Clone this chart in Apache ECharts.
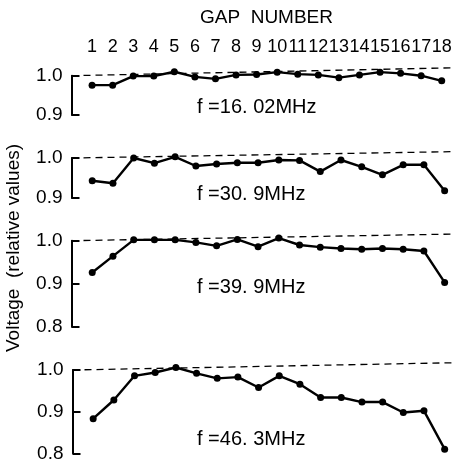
<!DOCTYPE html>
<html>
<head>
<meta charset="utf-8">
<script src="https://cdn.jsdelivr.net/npm/echarts@6/dist/echarts.min.js"></script>
<style>
html,body{margin:0;padding:0;background:#fff;}
#c{width:455px;height:465px;}
</style>
</head>
<body>
<div id="c"></div>
<script>
var gapLabels = ['1','2','3','4','5','6','7','8','9','10','11','12','13','14','15','16','17','18'];
var freqLabels = ['f =16. 02MHz','f =30. 9MHz','f =39. 9MHz','f =46. 3MHz'];
var v16 = [0.976,0.976,0.999,0.999,1.010,0.997,0.992,1.002,1.003,1.009,1.004,1.002,0.995,1.002,1.009,1.006,1.000,0.987];
var v30 = [0.943,0.937,1.000,0.987,1.003,0.980,0.985,0.988,0.988,0.995,0.994,0.966,0.995,0.978,0.958,0.983,0.983,0.918];
var v39 = [0.926,0.964,1.002,1.002,1.002,0.996,0.988,1.003,0.986,1.006,0.990,0.985,0.982,0.980,0.982,0.980,0.976,0.903];
var v46 = [0.883,0.928,0.986,0.994,1.006,0.992,0.980,0.983,0.958,0.986,0.966,0.934,0.934,0.923,0.923,0.898,0.902,0.810];
var yMins = [0.9, 0.9, 0.8, 0.8];
var refStart = [1.0, 1.0, 1.0, 1.0];
var refEnd = [1.020, 1.016, 1.0155, 1.0175];
var xMin = 0, xMax = 18.5;

var seriesVals = [v16, v30, v39, v46];
var FONT = '"Liberation Sans", Arial, sans-serif';

var grids = [
  {left: 71.5, width: 384.4, top: 75.7, height: 39.3},
  {left: 71.5, width: 384.4, top: 158, height: 40},
  {left: 71.5, width: 384.4, top: 240.7, height: 86},
  {left: 72.5, width: 384.4, top: 370, height: 83.3}
];
var labelY = [108, 195, 288, 440];

var xAxes = [], yAxes = [], series = [], graphics = [];
for (var i = 0; i < 4; i++) {
  var isTop = i === 0;
  xAxes.push({
    type: 'value', gridIndex: i, min: xMin, max: xMax, interval: 1,
    position: 'top',
    show: isTop,
    axisLine: {show: false}, axisTick: {show: false}, splitLine: {show: false},
    axisLabel: {
      show: isTop, margin: 20, fontSize: 18, color: '#000', fontFamily: FONT,
      formatter: function (v) {
        var k = Math.round(v);
        return (Math.abs(v - k) < 1e-6 && k >= 1 && k <= gapLabels.length) ? gapLabels[k - 1] : '';
      }
    }
  });
  yAxes.push({
    type: 'value', gridIndex: i, min: yMins[i], max: 1.0, interval: 0.1,
    axisLine: {show: true, lineStyle: {color: '#000', width: 2}},
    axisTick: {show: true, inside: true, length: 8, lineStyle: {color: '#000', width: 2}},
    splitLine: {show: false},
    axisLabel: {
      margin: 9, fontSize: 19, color: '#000', fontFamily: FONT,
      formatter: function (v) { return v.toFixed(1); }
    }
  });
  var pts = seriesVals[i].map(function (v, j) { return [j + 1, v]; });
  series.push({
    type: 'line', xAxisIndex: i, yAxisIndex: i, data: pts,
    clip: false, symbol: 'circle', symbolSize: 7,
    itemStyle: {color: '#000'},
    lineStyle: {color: '#000', width: 2.4},
    silent: true, animation: false, z: 3
  });
  series.push({
    type: 'line', xAxisIndex: i, yAxisIndex: i,
    data: [[xMin, refStart[i]], [xMax, refEnd[i]]],
    clip: false, symbol: 'none',
    lineStyle: {color: '#000', width: 1.3, type: [7, 5]},
    silent: true, animation: false, z: 2
  });
  graphics.push({
    type: 'text', left: 197, top: labelY[i] - 11,
    style: {text: freqLabels[i], fill: '#000', font: '20px ' + FONT}
  });
}
graphics.push({
  type: 'text', left: 200, top: 8,
  style: {text: 'GAP  NUMBER', fill: '#000', font: '19px ' + FONT}
});
graphics.push({
  type: 'text', x: 14, y: 248, rotation: Math.PI / 2,
  style: {text: 'Voltage  (relative values)', fill: '#000', font: '19px ' + FONT,
          textAlign: 'center', textVerticalAlign: 'middle'}
});

var chart = echarts.init(document.getElementById('c'), null, {renderer: 'canvas'});
chart.setOption({
  animation: false,
  backgroundColor: '#fff',
  grid: grids,
  xAxis: xAxes,
  yAxis: yAxes,
  series: series,
  graphic: graphics
});
</script>
</body>
</html>
